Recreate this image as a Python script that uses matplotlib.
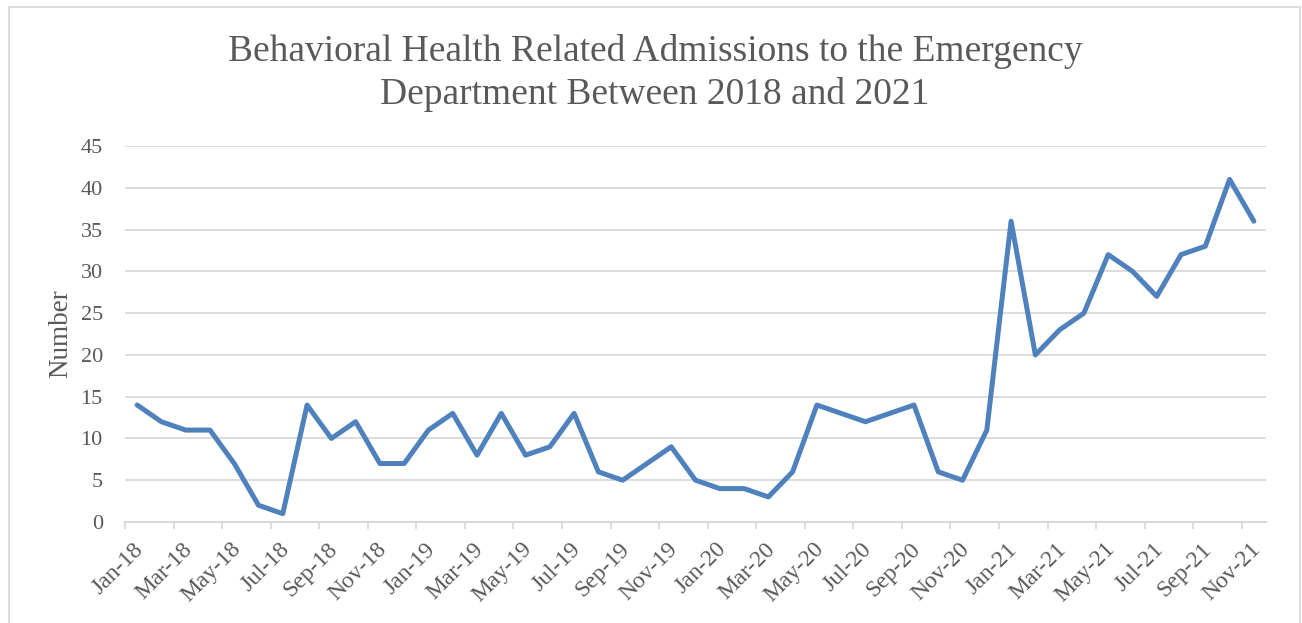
import matplotlib
matplotlib.use("Agg")
import matplotlib.pyplot as plt
import matplotlib.transforms as mtransforms
from matplotlib.patches import Rectangle
from matplotlib.ticker import FixedLocator

months = ["Jan-18","Feb-18","Mar-18","Apr-18","May-18","Jun-18","Jul-18","Aug-18","Sep-18","Oct-18","Nov-18","Dec-18",
          "Jan-19","Feb-19","Mar-19","Apr-19","May-19","Jun-19","Jul-19","Aug-19","Sep-19","Oct-19","Nov-19","Dec-19",
          "Jan-20","Feb-20","Mar-20","Apr-20","May-20","Jun-20","Jul-20","Aug-20","Sep-20","Oct-20","Nov-20","Dec-20",
          "Jan-21","Feb-21","Mar-21","Apr-21","May-21","Jun-21","Jul-21","Aug-21","Sep-21","Oct-21","Nov-21"]
admissions = [14, 12, 11, 11, 7, 2, 1, 14, 10, 12, 7, 7,
              11, 13, 8, 13, 8, 9, 13, 6, 5, 7, 9, 5,
              4, 4, 3, 6, 14, 13, 12, 13, 14, 6, 5, 11,
              36, 20, 23, 25, 32, 30, 27, 32, 33, 41, 36]
yticks = [0, 5, 10, 15, 20, 25, 30, 35, 40, 45]
title = "Behavioral Health Related Admissions to the Emergency\nDepartment Between 2018 and 2021"
ylabel = "Number"

plt.rcParams['font.family'] = ['Liberation Serif', 'DejaVu Serif']
TXT = "#595959"
GRID = "#d9d9d9"

fig = plt.figure(figsize=(13.02, 6.23), dpi=100)
W, H = 1302, 623
ax = fig.add_axes([125 / W, 1 - 522 / H, (1266 - 125) / W, (522 - 146) / H])

x = list(range(len(months)))
ax.plot(x, admissions, color="#4F81BD", lw=3.6, solid_joinstyle="round", solid_capstyle="round", zorder=3)

ax.set_xlim(-0.5, len(months) - 0.5)
ax.set_ylim(0, 45)
ax.set_yticks(yticks)
ax.set_yticklabels([str(v) for v in yticks])
ax.yaxis.grid(True, color=GRID, lw=1.3)
ax.set_axisbelow(True)

for s in ["top", "right", "left"]:
    ax.spines[s].set_visible(False)
ax.spines["bottom"].set_color(GRID)
ax.spines["bottom"].set_linewidth(1.5)

ax.tick_params(axis="y", length=0, labelsize=16, labelcolor=TXT, pad=16)

# major ticks at category boundaries (every 2), labels on minor ticks at category centers
ax.xaxis.set_major_locator(FixedLocator([i - 0.5 for i in range(0, len(months) + 1, 2)]))
ax.xaxis.set_major_formatter(plt.NullFormatter())
ax.tick_params(axis="x", which="major", length=5, width=1.3, color=GRID)
ax.set_xticks(list(range(0, len(months), 2)), minor=True)
ax.set_xticklabels([months[i] for i in range(0, len(months), 2)], minor=True)
ax.tick_params(axis="x", which="minor", length=0, labelsize=17, labelcolor=TXT, pad=12)
offset = mtransforms.ScaledTranslation(-4 / 100, 0, fig.dpi_scale_trans)
for lbl in ax.get_xticklabels(minor=True):
    lbl.set_rotation(45)
    lbl.set_ha("right")
    lbl.set_va("top")
    lbl.set_rotation_mode("anchor")
    lbl.set_transform(lbl.get_transform() + offset)

ax.set_ylabel(ylabel, fontsize=19.5, color=TXT, labelpad=5)

fig.text(655 / W, 1 - 73 / H, title, ha="center", va="center", fontsize=27, color=TXT, linespacing=1.27)

fig.patches.append(Rectangle((9 / W, -0.05), (1300 - 9) / W, 1.05 - 7 / H, transform=fig.transFigure,
                             fill=False, edgecolor=GRID, lw=1.3))

fig.savefig("out.png", dpi=100)
